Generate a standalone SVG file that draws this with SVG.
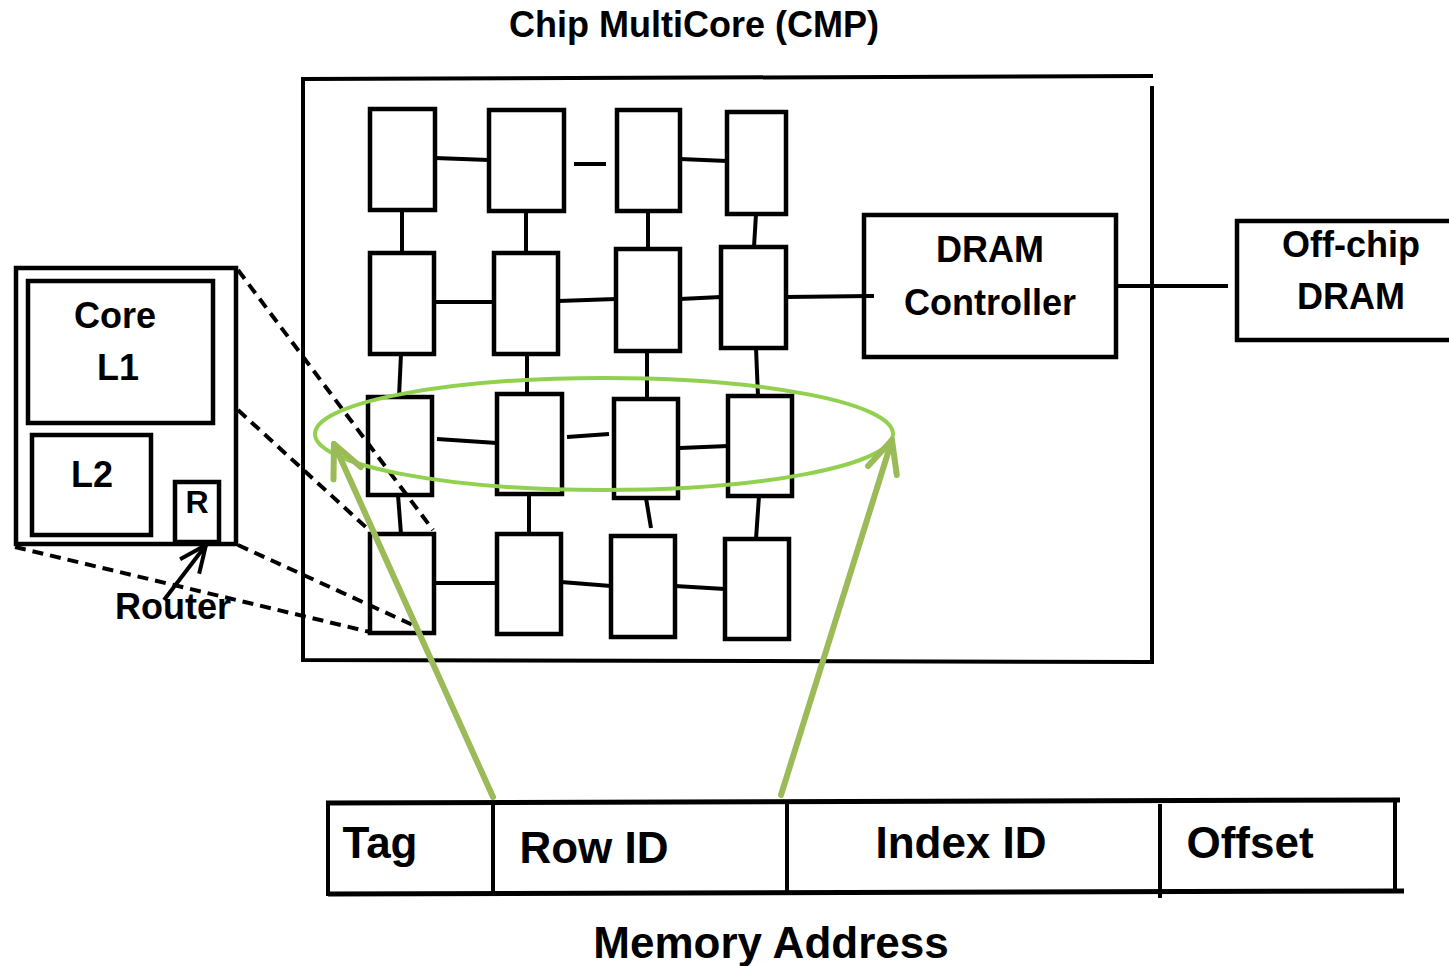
<svg xmlns="http://www.w3.org/2000/svg" width="1449" height="966" viewBox="0 0 1449 966">
  <style>
    .box { fill: #fff; stroke: #000; stroke-width: 4.5; }
    .ln { stroke: #000; stroke-width: 4; fill: none; }
    .thick { stroke: #000; stroke-width: 5; fill: none; }
    .dash { stroke: #000; stroke-width: 4; fill: none; stroke-dasharray: 11 7; }
    .t { font-family: "Liberation Sans", Arial, sans-serif; font-weight: bold; fill: #000; text-anchor: middle; }
    .s36 { font-size: 36px; }
    .s44 { font-size: 44px; }
    .ring { fill: none; stroke: #92D050; stroke-width: 4; }
    .garrow { stroke: #9BBB59; stroke-width: 6; fill: none; stroke-linecap: round; }
  </style>
  <defs>
    <marker id="openGreen" markerUnits="userSpaceOnUse" markerWidth="40" markerHeight="40" refX="0" refY="0" orient="auto" overflow="visible">
      <path d="M-32,-15 L0,0 L-32,15" fill="none" stroke="#9BBB59" stroke-width="6" stroke-linecap="round" stroke-linejoin="round"/>
    </marker>
    <marker id="openBlack" markerUnits="userSpaceOnUse" markerWidth="40" markerHeight="40" refX="0" refY="0" orient="auto" overflow="visible">
      <path d="M-27,-12 L0,0 L-27,12" fill="none" stroke="#000" stroke-width="4"/>
    </marker>
  </defs>

  <rect width="1449" height="966" fill="#fff"/>

  <!-- title -->
  <text class="t s36" x="694" y="37">Chip MultiCore (CMP)</text>

  <!-- chip outline -->
  <g id="chip">
    <path class="ln" d="M303,79 L1153,76 M303,77 L303,660 M301,660 L1152,662 M1152,86 L1152,664"/>
  </g>

  <!-- mesh links -->
  <g id="connectors">
    <path class="ln" d="M435,158 L489,160 M574,164 L606,164 M680,159 L727,161"/>
    <path class="ln" d="M402,210 L402,253 M526,211 L526,253 M648,211 L648,249 M756,214 L754,247"/>
    <path class="ln" d="M434,302 L494,302 M558,301 L616,299 M680,299 L721,297 M786,297 L872,296"/>
    <path class="ln" d="M401,354 L399,397 M527,354 L527,394 M647,351 L647,399 M756,348 L758,396"/>
    <path class="ln" d="M437,439 L497,443 M567,437 L609,434 M680,448 L728,446"/>
    <path class="ln" d="M398,495 L401,534 M529,494 L529,534 M646,498 L651,528 M759,496 L756,539"/>
    <path class="ln" d="M433,583 L497,583 M561,582 L611,586 M675,586 L725,589"/>
    <path class="ln" d="M1116,286 L1228,286"/>
  </g>

  <!-- mesh tiles -->
  <g id="tiles">
    <rect id="n11" class="box" x="370" y="109" width="65" height="101"/>
    <rect id="n12" class="box" x="489" y="110" width="75" height="101"/>
    <rect id="n13" class="box" x="617" y="110" width="63" height="101"/>
    <rect id="n14" class="box" x="727" y="112" width="59" height="102"/>
    <rect id="n21" class="box" x="370" y="253" width="64" height="101"/>
    <rect id="n22" class="box" x="494" y="253" width="64" height="101"/>
    <rect id="n23" class="box" x="616" y="249" width="64" height="102"/>
    <rect id="n24" class="box" x="721" y="247" width="65" height="101"/>
    <rect id="n31" class="box" x="368" y="397" width="64" height="98"/>
    <rect id="n32" class="box" x="497" y="394" width="65" height="100"/>
    <rect id="n33" class="box" x="614" y="399" width="64" height="99"/>
    <rect id="n34" class="box" x="728" y="396" width="64" height="100"/>
    <rect id="n41" class="box" x="370" y="534" width="64" height="99"/>
    <rect id="n42" class="box" x="497" y="534" width="64" height="100"/>
    <rect id="n43" class="box" x="611" y="536" width="64" height="101"/>
    <rect id="n44" class="box" x="725" y="539" width="64" height="100"/>
  </g>

  <!-- DRAM controller -->
  <g id="dram-controller">
    <rect class="box" x="864" y="215" width="252" height="142"/>
    <path class="ln" d="M864,296 L874,296"/>
    <text class="t s36" x="990" y="262">DRAM</text>
    <text class="t s36" x="990" y="315">Controller</text>
  </g>

  <!-- off-chip DRAM -->
  <g id="offchip-dram">
    <rect class="box" x="1237" y="221" width="230" height="119"/>
    <text class="t s36" x="1351" y="257">Off-chip</text>
    <text class="t s36" x="1351" y="309">DRAM</text>
  </g>

  <!-- zoomed tile detail -->
  <g id="tile-detail">
    <rect class="box" x="16" y="268" width="220" height="276"/>
    <rect class="box" x="28" y="281" width="185" height="142"/>
    <text class="t s36" x="115" y="328">Core</text>
    <text class="t s36" x="118" y="380">L1</text>
    <rect class="box" x="32" y="435" width="119" height="100"/>
    <text class="t s36" x="92" y="487">L2</text>
    <rect class="box" x="175" y="482" width="44" height="60"/>
    <text class="t" style="font-size:32px" x="197" y="513">R</text>
  </g>

  <!-- projection lines from tile to mesh -->
  <g id="projection">
    <path class="dash" d="M238,270 L433,530"/>
    <path class="dash" d="M238,410 L369,530"/>
    <path class="dash" d="M238,545 L415,626"/>
    <path class="dash" d="M15,547 L370,632"/>
  </g>

  <!-- router label -->
  <g id="router-label">
    <path class="ln" d="M164,600 L206,545" marker-end="url(#openBlack)"/>
    <text class="t s36" x="173" y="619">Router</text>
  </g>

  <!-- row selection -->
  <g id="row-select">
    <ellipse class="ring" cx="604" cy="434" rx="289" ry="56"/>
    <path class="garrow" d="M493,797 L334,444" marker-end="url(#openGreen)"/>
    <path class="garrow" d="M781,795 L892,440" marker-end="url(#openGreen)"/>
  </g>

  <!-- memory address fields -->
  <g id="memory-address">
    <path class="thick" d="M326,803 L1400,800 M328,894 L1404,891"/>
    <path class="ln" d="M328,801 L328,896 M493,803 L493,893 M787,802 L787,893 M1160,804 L1160,898 M1395,800 L1395,892"/>
    <text class="t s44" x="380" y="858">Tag</text>
    <text class="t s44" x="594" y="863">Row ID</text>
    <text class="t s44" x="961" y="858">Index ID</text>
    <text class="t s44" x="1250" y="858">Offset</text>
    <text class="t s44" x="771" y="958">Memory Address</text>
  </g>
</svg>
